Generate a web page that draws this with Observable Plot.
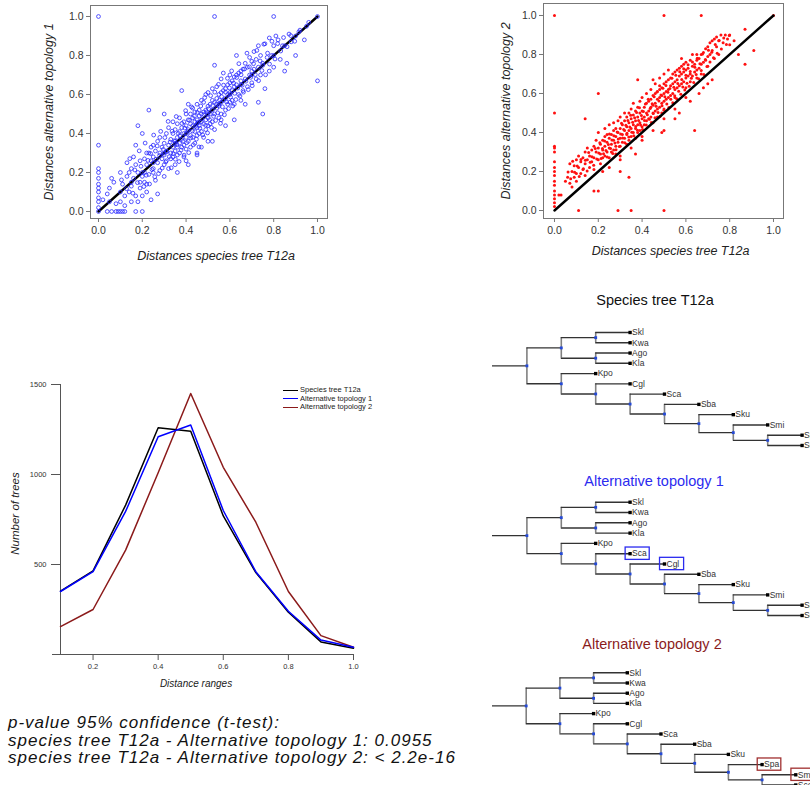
<!DOCTYPE html>
<html><head><meta charset="utf-8">
<script src="https://cdn.jsdelivr.net/npm/d3@7"></script>
<script src="https://cdn.jsdelivr.net/npm/@observablehq/plot@0.6"></script>
<style>
body{margin:0;background:#fff;font-family:"Liberation Sans",Arial,sans-serif;}
#page{position:relative;width:810px;height:785px;overflow:hidden;background:#fff;}
.abs{position:absolute;}
.ttl{position:absolute;width:240px;text-align:center;font-size:14.5px;line-height:18px;white-space:nowrap;}
.leg{position:absolute;left:283px;top:386px;font-size:7.5px;line-height:8.5px;color:#222;}
.leg div{white-space:nowrap;}
.leg span{display:inline-block;width:15px;height:0;border-top:1.5px solid;vertical-align:middle;margin-right:2px;}
.note{position:absolute;left:8px;top:714px;font-style:italic;font-size:17px;line-height:17.5px;color:#111;letter-spacing:1px;white-space:nowrap;}
</style></head><body>
<div id="page">
  <div id="s1" class="abs" style="left:0;top:0"></div>
  <div id="s2" class="abs" style="left:450px;top:0"></div>
  <div id="lc" class="abs" style="left:0;top:370px"></div>
  <div class="leg">
    <div><span style="border-color:#000"></span>Species tree T12a</div>
    <div><span style="border-color:#0000ff"></span>Alternative topology 1</div>
    <div><span style="border-color:#8b1a1a"></span>Alternative topology 2</div>
  </div>
  <div class="ttl" style="left:535px;top:291px;color:#111">Species tree T12a</div>
  <div id="t1" class="abs" style="left:480px;top:320px"></div>
  <div class="ttl" style="left:534px;top:472px;color:#2b2bef">Alternative topology 1</div>
  <div id="t2" class="abs" style="left:480px;top:490px"></div>
  <div class="ttl" style="left:532px;top:635px;color:#8b1c1c">Alternative topology 2</div>
  <div id="t3" class="abs" style="left:480px;top:660px"></div>
  <div class="note">p-value 95% confidence (t-test):<br>species tree T12a - Alternative topology 1: 0.0955<br>species tree T12a - Alternative topology 2: &lt; 2.2e-16</div>
</div>
<script>
// ---------- data ----------
const axisTicks = [0, 0.2, 0.4, 0.6, 0.8, 1.0];
const diagonal = [0, 1];

const scatter1 = [
 [0,0],[0,0.02],[0,0.05],[0,0.07],[0,0.1],[0,0.12],[0,0.14],[0,0.17],[0,0.2],[0,0.22],[0,0.34],[0,1.0],
 [0.04,0],[0.06,0],[0.08,0],[0.09,0],[0.1,0],[0.11,0],[0.12,0],[0.17,0],[0.2,0],
 [0.02,0.06],[0.04,0.09],[0.05,0.12],[0.06,0.17],[0.07,0.15],[0.08,0.04],[0.1,0.05],[0.1,0.2],[0.12,0.03],
 [0.13,0.25],[0.14,0.1],[0.15,0.05],[0.16,0.28],[0.15,0.22],[0.17,0.34],[0.18,0.44],[0.19,0.12],[0.2,0.4],
 [0.21,0.15],[0.22,0.3],[0.23,0.52],[0.24,0.06],[0.25,0.2],[0.25,0.34],[0.18,0.05],[0.2,0.08],[0.22,0.1],
 [0.11,0.14],[0.12,0.08],[0.13,0.18],[0.14,0.2],[0.15,0.13],[0.16,0.17],[0.17,0.24],[0.17,0.08],[0.18,0.2],[0.19,0.26],[0.19,0.15],
 [0.2,0.18],[0.21,0.27],[0.21,0.2],[0.22,0.24],[0.22,0.14],[0.23,0.3],[0.23,0.19],[0.24,0.26],[0.24,0.33],[0.25,0.22],
 [0.25,0.28],[0.26,0.16],[0.26,0.31],[0.27,0.25],[0.27,0.36],[0.28,0.21],[0.28,0.3],[0.28,0.38],[0.29,0.27],[0.29,0.33],
 [0.3,0.24],[0.3,0.35],[0.3,0.29],[0.3,0.18],[0.3,0.5],
 [0.31,0.31],[0.31,0.4],[0.31,0.26],[0.32,0.34],[0.32,0.22],[0.32,0.43],[0.33,0.3],[0.33,0.37],[0.33,0.27],[0.34,0.4],
 [0.34,0.33],[0.34,0.46],[0.34,0.28],[0.35,0.36],[0.35,0.31],[0.35,0.42],[0.35,0.24],[0.36,0.38],[0.36,0.45],[0.36,0.33],
 [0.36,0.29],[0.37,0.41],[0.37,0.35],[0.37,0.48],[0.37,0.3],[0.38,0.43],[0.38,0.37],[0.38,0.33],[0.38,0.62],[0.39,0.4],
 [0.39,0.46],[0.39,0.34],[0.39,0.28],[0.4,0.44],[0.4,0.38],[0.4,0.5],[0.4,0.32],[0.4,0.26],
 [0.41,0.42],[0.41,0.47],[0.41,0.36],[0.41,0.55],[0.42,0.45],[0.42,0.39],[0.42,0.5],[0.42,0.33],[0.43,0.44],[0.43,0.48],
 [0.43,0.38],[0.43,0.53],[0.44,0.46],[0.44,0.41],[0.44,0.51],[0.44,0.35],[0.45,0.47],[0.45,0.43],[0.45,0.55],[0.45,0.39],
 [0.45,0.3],[0.46,0.49],[0.46,0.44],[0.46,0.52],[0.46,0.4],[0.47,0.5],[0.47,0.46],[0.47,0.57],[0.47,0.41],[0.48,0.51],
 [0.48,0.45],[0.48,0.56],[0.48,0.38],[0.49,0.52],[0.49,0.47],[0.49,0.6],[0.49,0.42],[0.5,0.54],[0.5,0.48],[0.5,0.44],
 [0.5,0.61],[0.5,0.36],
 [0.51,0.55],[0.51,0.5],[0.51,0.45],[0.52,0.57],[0.52,0.52],[0.52,0.63],[0.52,0.46],[0.53,0.56],[0.53,0.5],[0.53,0.75],
 [0.53,1.0],[0.53,0.42],[0.54,0.58],[0.54,0.53],[0.54,0.64],[0.55,0.6],[0.55,0.54],[0.55,0.48],[0.56,0.61],[0.56,0.56],
 [0.56,0.68],[0.56,0.5],[0.57,0.62],[0.57,0.57],[0.57,0.71],[0.58,0.63],[0.58,0.58],[0.58,0.52],[0.59,0.65],[0.59,0.6],
 [0.59,0.55],[0.6,0.66],[0.6,0.61],[0.6,0.7],[0.6,0.56],[0.58,0.44],
 [0.61,0.67],[0.61,0.62],[0.61,0.57],[0.62,0.69],[0.62,0.64],[0.62,0.55],[0.63,0.7],[0.63,0.65],[0.63,0.8],[0.64,0.71],
 [0.64,0.6],[0.65,0.72],[0.65,0.67],[0.65,0.57],[0.66,0.73],[0.66,0.62],[0.67,0.76],[0.67,0.68],[0.68,0.74],[0.68,0.64],
 [0.69,0.79],[0.69,0.7],[0.7,0.77],[0.7,0.66],[0.7,0.72],
 [0.71,0.82],[0.71,0.73],[0.72,0.68],[0.72,0.78],[0.73,0.85],[0.73,0.74],[0.74,0.7],[0.74,0.8],[0.75,0.5],[0.75,0.76],
 [0.76,0.86],[0.76,0.63],[0.77,0.79],[0.78,0.72],[0.78,0.89],[0.79,0.8],[0.8,0.85],[0.8,1.0],[0.8,0.74],
 [0.81,0.9],[0.82,0.88],[0.83,0.78],[0.84,0.85],[0.85,0.72],[0.86,0.76],[0.87,0.91],[0.88,0.87],[0.9,0.8],[0.92,0.93],
 [0.94,0.88],[0.96,0.97],[1,1],[1,0.67],
 [0.105,0.162],[0.128,0.117],[0.143,0.271],[0.157,0.094],[0.166,0.213],[0.178,0.148],[0.186,0.311],[0.194,0.232],[0.207,0.128],[0.213,0.351],
 [0.218,0.186],[0.226,0.262],[0.233,0.141],[0.238,0.297],[0.244,0.215],[0.252,0.392],[0.257,0.178],[0.263,0.268],[0.268,0.336],[0.274,0.194],
 [0.279,0.287],[0.284,0.411],[0.291,0.223],[0.296,0.318],[0.303,0.379],[0.307,0.254],[0.312,0.307],[0.318,0.462],[0.323,0.281],[0.327,0.356],
 [0.332,0.224],[0.336,0.412],[0.341,0.297],[0.346,0.363],[0.351,0.268],[0.355,0.487],[0.359,0.342],[0.364,0.401],[0.368,0.256],[0.372,0.387],
 [0.377,0.315],[0.381,0.452],[0.386,0.361],[0.391,0.289],[0.394,0.428],[0.398,0.517],[0.403,0.353],[0.407,0.411],[0.412,0.302],[0.416,0.468],
 [0.421,0.377],[0.425,0.536],[0.429,0.413],[0.433,0.342],[0.438,0.489],[0.442,0.436],[0.447,0.371],[0.451,0.508],[0.455,0.457],[0.459,0.331],
 [0.463,0.427],[0.467,0.541],[0.471,0.474],[0.476,0.393],[0.481,0.497],[0.485,0.584],[0.489,0.442],[0.494,0.511],[0.498,0.403],[0.503,0.527],
 [0.507,0.471],[0.512,0.594],[0.516,0.431],[0.521,0.543],[0.526,0.488],[0.531,0.612],[0.535,0.467],[0.539,0.551],[0.544,0.506],[0.548,0.652],
 [0.553,0.571],[0.557,0.452],[0.562,0.589],[0.566,0.537],[0.571,0.648],[0.575,0.496],[0.58,0.612],[0.585,0.562],[0.589,0.683],[0.594,0.528],
 [0.598,0.634],[0.603,0.587],[0.608,0.721],[0.613,0.541],[0.617,0.658],[0.622,0.606],[0.627,0.574],[0.631,0.687],[0.636,0.633],[0.641,0.758],
 [0.646,0.592],[0.651,0.701],[0.656,0.647],[0.662,0.612],[0.667,0.731],[0.673,0.668],[0.678,0.812],[0.684,0.625],[0.689,0.742],[0.695,0.688],
 [0.702,0.645],[0.708,0.758],[0.716,0.702],[0.723,0.826],[0.731,0.671],[0.738,0.772],[0.746,0.723],[0.755,0.858],[0.763,0.701],[0.772,0.812],
 [0.781,0.756],[0.792,0.873],[0.806,0.782],[0.818,0.861],[0.832,0.823],[0.845,0.892],[0.861,0.845],[0.878,0.902],[0.896,0.873],[0.915,0.921],
 [0.27,0.09],[0.36,0.2],[0.41,0.24],[0.45,0.29],[0.52,0.36],[0.62,0.47],[0.67,0.55],[0.73,0.56],[0.56,0.47],[0.47,0.33],
 [0.05,0.05],[0.1,0.1],[0.15,0.15],[0.2,0.2],[0.25,0.25],[0.3,0.3],[0.35,0.35],[0.4,0.4],[0.45,0.45],[0.5,0.5],
 [0.55,0.55],[0.6,0.6],[0.65,0.65],[0.7,0.7],[0.75,0.75],[0.8,0.8],[0.85,0.85],[0.9,0.9],[0.95,0.95]
];

const scatter2 = [
 [0,1.0],[0.5,1.0],[0.67,1.0],[0,0.5],[0,0.33],[0,0.32],[0,0.3],[0,0.25],[0,0.22],[0,0.2],[0,0.18],[0,0.15],[0,0.13],
 [0,0.1],[0,0.08],[0,0.06],[0,0.04],[0,0.02],[0.11,0],[0.29,0],[0.35,0],[0.5,0],[0.02,0.08],[0.03,0.08],
 [0.2,0.6],[0.14,0.47],[0.38,0.67],[0.64,0.41],[0.91,0.82],[0.87,0.75],[0.84,0.8],[1,1],
 [0.05,0.15],[0.06,0.17],[0.07,0.24],[0.07,0.14],[0.08,0.2],[0.08,0.12],[0.09,0.23],[0.09,0.17],[0.1,0.26],[0.1,0.19],
 [0.1,0.15],[0.11,0.22],[0.11,0.28],[0.12,0.25],[0.12,0.19],[0.13,0.27],[0.13,0.21],[0.14,0.3],[0.14,0.24],[0.14,0.18],
 [0.15,0.26],[0.15,0.32],[0.16,0.28],[0.16,0.22],[0.17,0.31],[0.17,0.25],[0.18,0.33],[0.18,0.27],[0.18,0.21],[0.19,0.3],
 [0.19,0.36],[0.2,0.32],[0.2,0.26],[0.2,0.4],
 [0.21,0.34],[0.21,0.29],[0.21,0.24],[0.22,0.36],[0.22,0.31],[0.22,0.27],[0.23,0.38],[0.23,0.33],[0.23,0.28],[0.23,0.42],
 [0.24,0.35],[0.24,0.3],[0.24,0.39],[0.25,0.37],[0.25,0.32],[0.25,0.27],[0.25,0.44],[0.26,0.39],[0.26,0.34],[0.26,0.3],
 [0.27,0.41],[0.27,0.36],[0.27,0.31],[0.27,0.45],[0.28,0.38],[0.28,0.33],[0.28,0.42],[0.28,0.29],[0.29,0.4],[0.29,0.35],
 [0.29,0.46],[0.3,0.42],[0.3,0.37],[0.3,0.33],[0.3,0.48],[0.3,0.28],
 [0.31,0.39],[0.31,0.44],[0.31,0.35],[0.32,0.41],[0.32,0.46],[0.32,0.37],[0.32,0.5],[0.33,0.43],[0.33,0.39],[0.33,0.48],
 [0.33,0.34],[0.34,0.45],[0.34,0.41],[0.34,0.5],[0.34,0.36],[0.35,0.47],[0.35,0.42],[0.35,0.52],[0.35,0.38],[0.36,0.44],
 [0.36,0.49],[0.36,0.4],[0.36,0.55],[0.37,0.46],[0.37,0.51],[0.37,0.42],[0.37,0.37],[0.38,0.48],[0.38,0.44],[0.38,0.53],
 [0.38,0.4],[0.39,0.5],[0.39,0.45],[0.39,0.56],[0.39,0.41],[0.4,0.51],[0.4,0.47],[0.4,0.43],[0.4,0.58],[0.4,0.38],
 [0.41,0.53],[0.41,0.48],[0.41,0.44],[0.42,0.55],[0.42,0.5],[0.42,0.46],[0.42,0.6],[0.43,0.56],[0.43,0.51],[0.43,0.47],
 [0.44,0.57],[0.44,0.53],[0.44,0.48],[0.44,0.62],[0.45,0.59],[0.45,0.54],[0.45,0.5],[0.45,0.45],[0.46,0.6],[0.46,0.55],
 [0.46,0.51],[0.46,0.65],[0.47,0.61],[0.47,0.57],[0.47,0.52],[0.47,0.48],[0.48,0.62],[0.48,0.58],[0.48,0.53],[0.48,0.68],
 [0.49,0.63],[0.49,0.59],[0.49,0.55],[0.49,0.5],[0.5,0.65],[0.5,0.6],[0.5,0.56],[0.5,0.52],[0.5,0.7],
 [0.51,0.66],[0.51,0.61],[0.51,0.57],[0.52,0.67],[0.52,0.62],[0.52,0.58],[0.52,0.72],[0.53,0.68],[0.53,0.64],[0.53,0.59],
 [0.54,0.7],[0.54,0.65],[0.54,0.6],[0.55,0.71],[0.55,0.66],[0.55,0.62],[0.55,0.58],[0.56,0.72],[0.56,0.67],[0.56,0.63],
 [0.57,0.73],[0.57,0.69],[0.57,0.64],[0.58,0.74],[0.58,0.7],[0.58,0.65],[0.59,0.75],[0.59,0.71],[0.59,0.66],[0.6,0.72],
 [0.6,0.68],[0.6,0.76],[0.6,0.63],
 [0.61,0.73],[0.61,0.69],[0.62,0.77],[0.62,0.7],[0.62,0.66],[0.63,0.74],[0.63,0.8],[0.63,0.69],[0.64,0.75],[0.64,0.71],
 [0.65,0.77],[0.65,0.72],[0.65,0.68],[0.66,0.78],[0.66,0.73],[0.67,0.8],[0.67,0.75],[0.67,0.7],[0.68,0.81],[0.68,0.76],
 [0.69,0.83],[0.69,0.77],[0.7,0.79],[0.7,0.84],[0.7,0.74],
 [0.71,0.86],[0.71,0.8],[0.72,0.87],[0.72,0.82],[0.73,0.88],[0.73,0.78],[0.74,0.89],[0.74,0.84],[0.75,0.87],[0.75,0.8],
 [0.76,0.9],[0.77,0.86],[0.78,0.9],[0.79,0.88],[0.8,0.9],[0.8,0.85],[0.82,0.87],[0.87,0.93],
 [0.25,0.22],[0.3,0.26],[0.35,0.32],[0.4,0.36],[0.45,0.41],[0.5,0.47],[0.55,0.52],[0.6,0.58],[0.5,0.41],[0.57,0.5],
 [0.62,0.56],[0.66,0.6],[0.68,0.63],[0.7,0.65],[0.72,0.67],[0.3,0.2],[0.22,0.2],[0.2,0.1],[0.18,0.1],[0.34,0.17],
 [0.37,0.29],[0.49,0.4],[0.55,0.47],[0.48,0.64],[0.45,0.67],[0.58,0.78],[0.65,0.8],
 [0.062,0.198],[0.074,0.163],[0.083,0.252],[0.092,0.196],[0.104,0.228],[0.113,0.174],[0.121,0.262],[0.132,0.214],[0.141,0.258],[0.149,0.203],
 [0.156,0.297],[0.163,0.248],[0.171,0.276],[0.179,0.232],[0.186,0.318],[0.193,0.264],[0.202,0.295],[0.207,0.347],[0.213,0.267],[0.219,0.318],
 [0.224,0.291],[0.229,0.356],[0.235,0.308],[0.241,0.274],[0.246,0.338],[0.251,0.392],[0.256,0.318],[0.262,0.361],[0.266,0.292],[0.271,0.383],
 [0.276,0.346],[0.281,0.312],[0.286,0.402],[0.291,0.367],[0.296,0.328],[0.302,0.392],[0.306,0.448],[0.311,0.372],[0.316,0.416],[0.321,0.348],
 [0.326,0.437],[0.331,0.396],[0.335,0.462],[0.339,0.377],[0.344,0.428],[0.348,0.488],[0.353,0.401],[0.357,0.452],[0.362,0.383],[0.366,0.476],
 [0.371,0.431],[0.375,0.503],[0.379,0.412],[0.384,0.462],[0.388,0.527],[0.393,0.438],[0.397,0.487],[0.402,0.416],[0.406,0.508],[0.411,0.462],
 [0.415,0.546],[0.419,0.438],[0.424,0.491],[0.428,0.571],[0.433,0.468],[0.437,0.523],[0.442,0.451],[0.446,0.547],[0.451,0.498],[0.455,0.583],
 [0.459,0.476],[0.464,0.534],[0.468,0.608],[0.473,0.502],[0.477,0.561],[0.482,0.483],[0.486,0.592],[0.491,0.537],[0.495,0.627],[0.5,0.514],
 [0.504,0.583],[0.509,0.641],[0.513,0.546],[0.518,0.607],[0.522,0.528],[0.527,0.626],[0.531,0.571],[0.536,0.678],[0.54,0.553],[0.545,0.632],
 [0.549,0.589],[0.554,0.694],[0.558,0.573],[0.563,0.651],[0.567,0.611],[0.572,0.712],[0.577,0.596],[0.581,0.672],[0.586,0.633],[0.59,0.727],
 [0.595,0.618],[0.6,0.694],[0.605,0.652],[0.61,0.748],[0.615,0.637],[0.62,0.713],[0.625,0.678],[0.63,0.762],[0.636,0.657],[0.641,0.734],
 [0.647,0.698],[0.652,0.781],[0.658,0.676],[0.664,0.752],[0.67,0.718],[0.676,0.802],[0.682,0.697],[0.689,0.774],[0.696,0.738],[0.703,0.822],
 [0.71,0.761],[0.718,0.812],[0.726,0.783],[0.734,0.851],[0.743,0.806],[0.752,0.872],[0.762,0.828],[0.773,0.884],[0.785,0.851],[0.798,0.897]
];

const distanceRanges = [0.1, 0.2, 0.3, 0.4, 0.5, 0.6, 0.7, 0.8, 0.9, 1.0];
const speciesCounts  = [352, 465, 830, 1260, 1240, 770, 455, 235, 70, 35];
const alt1Counts     = [350, 460, 795, 1210, 1275, 800, 460, 240, 80, 40];
const alt2Counts     = [155, 250, 580, 1010, 1450, 1040, 735, 350, 105, 40];
const rangeTicks = [0.2, 0.4, 0.6, 0.8, 1.0];
const countTicks = [500, 1000, 1500];

// tree edges: [child, parent], children listed top to bottom
const tree1Edges = [
 ["n1","root"],["n2","root"],["n3","n1"],["n4","n1"],
 ["Skl","n3"],["Kwa","n3"],["Ago","n4"],["Kla","n4"],
 ["Kpo","n2"],["n5","n2"],["Cgl","n5"],["n6","n5"],["Sca","n6"],["n7","n6"],
 ["Sba","n7"],["n8","n7"],["Sku","n8"],["n9","n8"],["Smi","n9"],["n10","n9"],["Spa","n10"],["Sce","n10"]
];
const tree2Edges = [
 ["n1","root"],["n2","root"],["n3","n1"],["n4","n1"],
 ["Skl","n3"],["Kwa","n3"],["Ago","n4"],["Kla","n4"],
 ["Kpo","n2"],["n5","n2"],["Sca","n5"],["n6","n5"],["Cgl","n6"],["n7","n6"],
 ["Sba","n7"],["n8","n7"],["Sku","n8"],["n9","n8"],["Smi","n9"],["n10","n9"],["Spa","n10"],["Sce","n10"]
];
const tree3Edges = [
 ["n1","root"],["n2","root"],["n3","n1"],["n4","n1"],
 ["Skl","n3"],["Kwa","n3"],["Ago","n4"],["Kla","n4"],
 ["Kpo","n2"],["n5","n2"],["Cgl","n5"],["n6","n5"],["Sca","n6"],["n7","n6"],
 ["Sba","n7"],["n8","n7"],["Sku","n8"],["n9","n8"],["Spa","n9"],["n10","n9"],["Smi","n10"],["Sce","n10"]
];
const tree2Highlight = ["Sca","Cgl"];
const tree3Highlight = ["Spa","Smi"];

// ---------- drawing ----------
const FONT = '"Liberation Sans", Arial, sans-serif';
const fmt1 = d3.format(".1f");

function scatter(el, data, o) {
  const dots = o.filled
    ? Plot.dot(data, {x: d => d[0], y: d => d[1], r: 1.5, fill: o.color, stroke: "none"})
    : Plot.dot(data, {x: d => d[0], y: d => d[1], r: 1.9, fill: "none", stroke: o.color, strokeWidth: 0.8});
  const line = Plot.line(diagonal, {x: d => d, y: d => d, stroke: "#000", strokeWidth: 2.4});
  const chart = Plot.plot({
    width: 340, height: 270,
    marginLeft: o.ml, marginRight: o.mr, marginTop: o.mt, marginBottom: 52,
    x: {domain: o.xd}, y: {domain: o.yd},
    style: {fontFamily: FONT, fontSize: "10px", color: "#333", background: "transparent", overflow: "visible"},
    marks: [
      Plot.frame({stroke: "#777"}),
      Plot.axisX(axisTicks, {tickSize: 4, tickPadding: 4, tickFormat: fmt1, label: null, fontSize: 10.5, stroke: "#777"}),
      Plot.axisY(axisTicks, {tickSize: 4, tickPadding: 3, tickFormat: fmt1, label: null, fontSize: 10.5, stroke: "#777"}),
      ...(o.filled ? [dots, line] : [line, dots]),
      Plot.text(["Distances species tree T12a"], {text: d => d, frameAnchor: "bottom", dy: o.xty, dx: 7, textAnchor: "middle", lineAnchor: "middle", fontStyle: "italic", fontSize: 12.5, fill: "#222"}),
      Plot.text([o.yTitle], {text: d => d, frameAnchor: "left", dx: o.ytx, rotate: -90, textAnchor: "middle", lineAnchor: "middle", fontStyle: "italic", fontSize: 12.5, fill: "#222"})
    ]
  });
  document.getElementById(el).appendChild(chart);
}

scatter("s1", scatter1, {color: "#2a2aff", filled: false, ml: 90, mr: 13, mt: 5,
  xd: [-0.0365, 1.0457], yd: [-0.0359, 1.0564], xty: 37, ytx: -42, yTitle: "Distances alternative topology 1"});
scatter("s2", scatter2, {color: "#ff1010", filled: true, ml: 93, mr: 7, mt: 3,
  xd: [-0.0502, 1.0457], yd: [-0.041, 1.0615], xty: 32, ytx: -38, yTitle: "Distances alternative topology 2"});

// line chart
const lineRows = distanceRanges.map((x, i) => ({x, species: speciesCounts[i], alt1: alt1Counts[i], alt2: alt2Counts[i]}));
const lc = Plot.plot({
  width: 380, height: 330,
  marginLeft: 60, marginRight: 27, marginTop: 14, marginBottom: 46,
  x: {domain: [distanceRanges[0], distanceRanges[distanceRanges.length - 1]]},
  y: {domain: [0, 1500]},
  style: {fontFamily: FONT, fontSize: "7.5px", color: "#333", background: "transparent", overflow: "visible"},
  marks: [
    Plot.ruleX([distanceRanges[0]], {stroke: "#555"}),
    Plot.ruleY([0], {stroke: "#555", insetLeft: -8}),
    Plot.axisX(rangeTicks, {tickSize: 6, tickPadding: 3, tickFormat: fmt1, label: null, stroke: "#555"}),
    Plot.axisY(countTicks, {tickSize: 9, tickPadding: 5, tickFormat: d3.format("d"), label: null, stroke: "#555"}),
    Plot.line(lineRows, {x: "x", y: "alt2", stroke: "#8b1a1a", strokeWidth: 1.5}),
    Plot.line(lineRows, {x: "x", y: "species", stroke: "#000", strokeWidth: 1.5}),
    Plot.line(lineRows, {x: "x", y: "alt1", stroke: "#0000ff", strokeWidth: 1.5}),
    Plot.text(["Distance ranges"], {text: d => d, frameAnchor: "bottom", dy: 29, dx: -11, textAnchor: "middle", lineAnchor: "middle", fontStyle: "italic", fontSize: 10, fill: "#222"}),
    Plot.text(["Number of trees"], {text: d => d, frameAnchor: "left", dx: -45, dy: -6, rotate: -90, textAnchor: "middle", lineAnchor: "middle", fontStyle: "italic", fontSize: 11.5, fill: "#222"})
  ]
});
document.getElementById("lc").appendChild(lc);

// trees
function layoutTree(edges) {
  const kids = new Map();
  for (const [c, p] of edges) { if (!kids.has(p)) kids.set(p, []); kids.get(p).push(c); }
  const nodes = []; let leafIdx = 0;
  function visit(name, depth, parent) {
    const ch = kids.get(name) || [];
    const node = {name, depth, parent, leaf: ch.length === 0};
    if (node.leaf) node.y = leafIdx++;
    else { node.children = ch.map(c => visit(c, depth + 1, node)); node.y = d3.mean(node.children, c => c.y); }
    nodes.push(node);
    return node;
  }
  const root = visit("root", 0, null);
  return {root, nodes};
}

function drawTree(el, edges, o) {
  const {root, nodes} = layoutTree(edges);
  const hors = nodes.filter(n => n.parent).map(n => ({x1: n.parent.depth, x2: n.depth, y: n.y}));
  hors.push({x1: -1, x2: 0, y: root.y});
  const verts = nodes.filter(n => !n.leaf).map(n => ({x: n.depth, y1: d3.min(n.children, c => c.y), y2: d3.max(n.children, c => c.y)}));
  const leaves = nodes.filter(n => n.leaf);
  const inner = nodes.filter(n => !n.leaf);
  const boxes = leaves.filter(n => (o.highlight || []).includes(n.name));
  const chart = Plot.plot({
    width: 330, height: o.h, margin: 0,
    x: {domain: [-1, 8], range: [12, o.xr], axis: null},
    y: {domain: [0, 11], range: [o.y0, o.y0 + 11 * o.sp], axis: null},
    style: {fontFamily: FONT, background: "transparent", overflow: "visible"},
    marks: [
      Plot.ruleX(verts, {x: "x", y1: "y1", y2: "y2", stroke: "#808080", strokeWidth: 1.6}),
      Plot.ruleY(hors, {y: "y", x1: "x1", x2: "x2", stroke: "#333", strokeWidth: 1.4}),
      Plot.rect(boxes, {x1: d => d.depth - 0.13, x2: d => d.depth + 0.57, y1: d => d.y - 0.6, y2: d => d.y + 0.6, fill: "none", stroke: o.boxColor, strokeWidth: 1.3}),
      Plot.dot(inner, {x: "depth", y: "y", symbol: "square", r: 1.6, fill: "#2449d6"}),
      Plot.dot(leaves, {x: "depth", y: "y", symbol: "square", r: 1.9, fill: "#000"}),
      Plot.text(leaves, {x: "depth", y: "y", text: "name", textAnchor: "start", dx: 2, fontSize: 8.5, fill: "#333"})
    ]
  });
  document.getElementById(el).appendChild(chart);
}

drawTree("t1", tree1Edges, {h: 135, xr: 321.6, y0: 12, sp: 10.27});
drawTree("t2", tree2Edges, {h: 135, xr: 321.6, y0: 11.7, sp: 10.3, highlight: tree2Highlight, boxColor: "#2b2bef"});
drawTree("t3", tree3Edges, {h: 130, xr: 315.3, y0: 12.3, sp: 10.2, highlight: tree3Highlight, boxColor: "#a03030"});
</script>
</body></html>
